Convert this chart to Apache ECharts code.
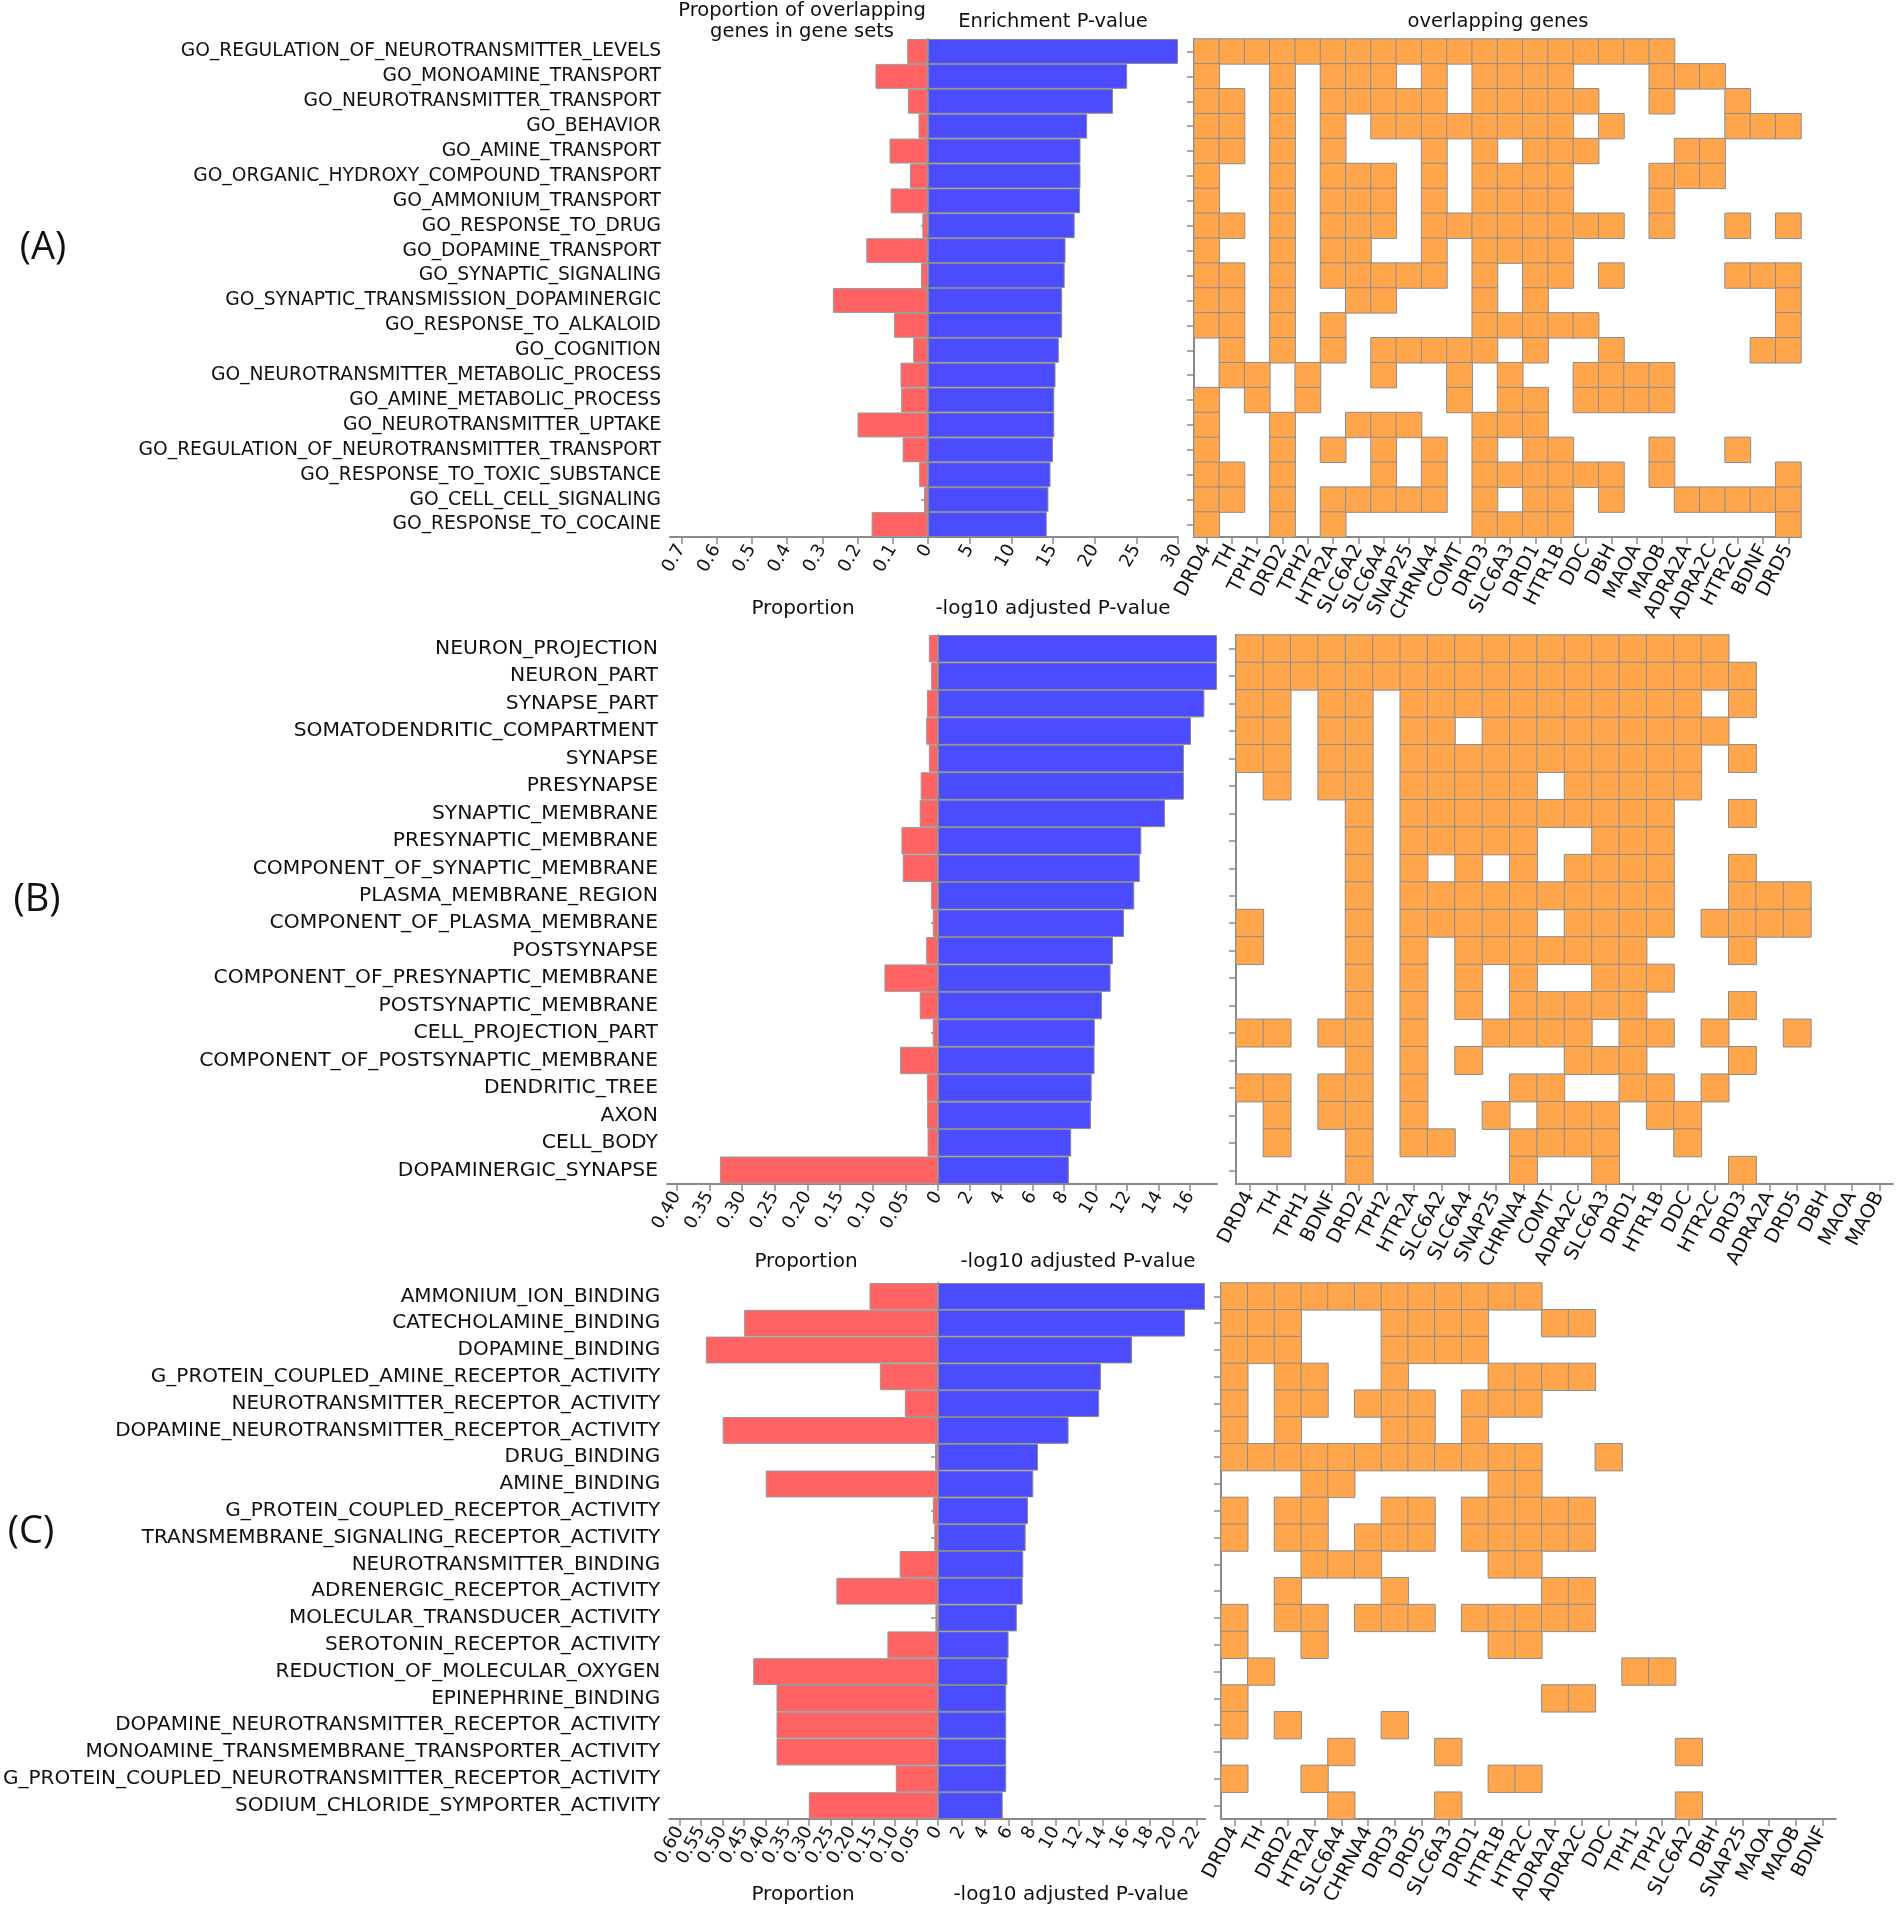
<!DOCTYPE html>
<html><head><meta charset="utf-8">
<script src="https://cdn.jsdelivr.net/npm/echarts@6/dist/echarts.min.js"></script>
<style>html,body{margin:0;padding:0;background:#fff}#c{width:1899px;height:1917px}</style>
</head><body><div id="c"></div>
<script>
// ---------- Panel A (biological process) ----------
const termsA = ["GO_REGULATION_OF_NEUROTRANSMITTER_LEVELS","GO_MONOAMINE_TRANSPORT","GO_NEUROTRANSMITTER_TRANSPORT","GO_BEHAVIOR","GO_AMINE_TRANSPORT","GO_ORGANIC_HYDROXY_COMPOUND_TRANSPORT","GO_AMMONIUM_TRANSPORT","GO_RESPONSE_TO_DRUG","GO_DOPAMINE_TRANSPORT","GO_SYNAPTIC_SIGNALING","GO_SYNAPTIC_TRANSMISSION_DOPAMINERGIC","GO_RESPONSE_TO_ALKALOID","GO_COGNITION","GO_NEUROTRANSMITTER_METABOLIC_PROCESS","GO_AMINE_METABOLIC_PROCESS","GO_NEUROTRANSMITTER_UPTAKE","GO_REGULATION_OF_NEUROTRANSMITTER_TRANSPORT","GO_RESPONSE_TO_TOXIC_SUBSTANCE","GO_CELL_CELL_SIGNALING","GO_RESPONSE_TO_COCAINE"];
const propA = [0.059,0.149,0.057,0.027,0.109,0.051,0.106,0.016,0.175,0.020,0.270,0.096,0.042,0.078,0.076,0.200,0.072,0.025,0.011,0.160];
const pvalA = [30.0,23.9,22.2,19.1,18.3,18.3,18.25,17.6,16.5,16.4,16.1,16.1,15.7,15.3,15.15,15.15,15.0,14.7,14.45,14.25];
const genesA = ["DRD4","TH","TPH1","DRD2","TPH2","HTR2A","SLC6A2","SLC6A4","SNAP25","CHRNA4","COMT","DRD3","SLC6A3","DRD1","HTR1B","DDC","DBH","MAOA","MAOB","ADRA2A","ADRA2C","HTR2C","BDNF","DRD5"];
const overlapA = [
"111111111111111111100000",
"100101110101111000111000",
"110101111101111100100100",
"110101011111111010000111",
"110101000101011100011000",
"100101110101111000111000",
"100101110101111000100000",
"110101110111111110100101",
"100101100101111000000000",
"110101111101011010000111",
"110100110001010000000001",
"110101000001111100000001",
"010101011111010010000011",
"011010010010100111100000",
"101010000010110111100000",
"100100111001110000000000",
"100101010101011000100100",
"110100010101111110100001",
"110101111101011010011111",
"100101000001111000000001"];

// ---------- Panel B (cellular component) ----------
const termsB = ["NEURON_PROJECTION","NEURON_PART","SYNAPSE_PART","SOMATODENDRITIC_COMPARTMENT","SYNAPSE","PRESYNAPSE","SYNAPTIC_MEMBRANE","PRESYNAPTIC_MEMBRANE","COMPONENT_OF_SYNAPTIC_MEMBRANE","PLASMA_MEMBRANE_REGION","COMPONENT_OF_PLASMA_MEMBRANE","POSTSYNAPSE","COMPONENT_OF_PRESYNAPTIC_MEMBRANE","POSTSYNAPTIC_MEMBRANE","CELL_PROJECTION_PART","COMPONENT_OF_POSTSYNAPTIC_MEMBRANE","DENDRITIC_TREE","AXON","CELL_BODY","DOPAMINERGIC_SYNAPSE"];
const propB = [0.014,0.0105,0.017,0.018,0.014,0.0265,0.028,0.056,0.054,0.0105,0.008,0.018,0.082,0.028,0.008,0.058,0.017,0.0166,0.016,0.334];
const pvalB = [17.7,17.7,16.9,16.05,15.6,15.6,14.4,12.9,12.8,12.45,11.8,11.1,10.95,10.4,9.95,9.93,9.75,9.7,8.45,8.3];
const genesB = ["DRD4","TH","TPH1","BDNF","DRD2","TPH2","HTR2A","SLC6A2","SLC6A4","SNAP25","CHRNA4","COMT","ADRA2C","SLC6A3","DRD1","HTR1B","DDC","HTR2C","DRD3","ADRA2A","DRD5","DBH","MAOA","MAOB"];
const overlapB = [
"111111111111111111000000",
"111111111111111111100000",
"110110111111111110100000",
"110110110111111111000000",
"110110111111111110100000",
"010110111110111110000000",
"000010111111111100100000",
"000010111110011100000000",
"000010101010111100100000",
"000010111111111100111000",
"100010111110111101111000",
"100010101111111000100000",
"000010101010011100000000",
"000010101011111000100000",
"110110100111101101001000",
"000010101000111000100000",
"110110100011001101000000",
"010110100101110110000000",
"010010110011110010000000",
"000010000010010000100000"];

// ---------- Panel C (molecular function) ----------
const termsC = ["AMMONIUM_ION_BINDING","CATECHOLAMINE_BINDING","DOPAMINE_BINDING","G_PROTEIN_COUPLED_AMINE_RECEPTOR_ACTIVITY","NEUROTRANSMITTER_RECEPTOR_ACTIVITY","DOPAMINE_NEUROTRANSMITTER_RECEPTOR_ACTIVITY","DRUG_BINDING","AMINE_BINDING","G_PROTEIN_COUPLED_RECEPTOR_ACTIVITY","TRANSMEMBRANE_SIGNALING_RECEPTOR_ACTIVITY","NEUROTRANSMITTER_BINDING","ADRENERGIC_RECEPTOR_ACTIVITY","MOLECULAR_TRANSDUCER_ACTIVITY","SEROTONIN_RECEPTOR_ACTIVITY","REDUCTION_OF_MOLECULAR_OXYGEN","EPINEPHRINE_BINDING","DOPAMINE_NEUROTRANSMITTER_RECEPTOR_ACTIVITY","MONOAMINE_TRANSMEMBRANE_TRANSPORTER_ACTIVITY","G_PROTEIN_COUPLED_NEUROTRANSMITTER_RECEPTOR_ACTIVITY","SODIUM_CHLORIDE_SYMPORTER_ACTIVITY"];
const propC = [0.159,0.450,0.539,0.135,0.077,0.500,0.007,0.400,0.012,0.0085,0.089,0.236,0.006,0.1175,0.429,0.375,0.375,0.375,0.098,0.300];
const pvalC = [22.7,21.0,16.5,13.85,13.7,11.1,8.5,8.1,7.65,7.45,7.25,7.2,6.7,6.0,5.9,5.8,5.8,5.8,5.8,5.5];
const genesC = ["DRD4","TH","DRD2","HTR2A","SLC6A4","CHRNA4","DRD3","DRD5","SLC6A3","DRD1","HTR1B","HTR2C","ADRA2A","ADRA2C","DDC","TPH1","TPH2","SLC6A2","DBH","SNAP25","MAOA","MAOB","BDNF"];
const overlapC = [
"11111111111100000000000",
"11100011110011000000000",
"11100011110000000000000",
"10110010001111000000000",
"10110111011100000000000",
"10100011010000000000000",
"11111111111100100000000",
"00011000001100000000000",
"10110011011111000000000",
"10110111011111000000000",
"00011100001100000000000",
"00100010000011000000000",
"10110111011111000000000",
"10010000001100000000000",
"01000000000000011000000",
"10000000000011000000000",
"10100010000000000000000",
"00001000100000000100000",
"10010000001100000000000",
"00001000100000000100000"];

const propTicksA = {max:0.732, interval:0.1, dec:1};
const propTicksB = {max:0.415, interval:0.05, dec:2};
const propTicksC = {max:0.624, interval:0.05, dec:2};
const pTicksA = {max:30, interval:5};
const pTicksB = {max:17.7, interval:2};
const pTicksC = {max:22.7, interval:2};

const FONT = 'DejaVu Sans';
const AX = '#8a8a8a';
const RED = '#FF6363', BLUE = '#4B4BFF', ORANGE = '#FFA64D';

const layouts = [
  {top:39, h:498, catX:670, zero:928, pEnd:1178, heatL:1194, heatW:607, catFont:18.7},
  {top:635, h:549, catX:667, zero:938, pEnd:1217, heatL:1236, heatW:657, catFont:20.3},
  {top:1283, h:536, catX:669, zero:938, pEnd:1205, heatL:1221, heatW:615, catFont:20}
];
const panels = [
  {terms:termsA, prop:propA, pval:pvalA, genes:genesA, overlap:overlapA, pt:propTicksA, pv:pTicksA},
  {terms:termsB, prop:propB, pval:pvalB, genes:genesB, overlap:overlapB, pt:propTicksB, pv:pTicksB},
  {terms:termsC, prop:propC, pval:pvalC, genes:genesC, overlap:overlapC, pt:propTicksC, pv:pTicksC}
];

const grid = [], xAxis = [], yAxis = [], series = [];
const lineStyle = {color: AX, width: 2};
const tickStyle = {show:true, length:7, lineStyle:{color:AX, width:1.5}};
const lbl = {fontFamily: FONT, fontSize: 18, color: '#111'};

panels.forEach((p, k) => {
  const L = layouts[k];
  const gi = k*3;
  grid.push({left:L.catX, top:L.top, width:L.zero-L.catX, height:L.h});
  grid.push({left:L.zero, top:L.top, width:L.pEnd-L.zero, height:L.h});
  grid.push({left:L.heatL, top:L.top, width:L.heatW, height:L.h});

  xAxis.push({gridIndex:gi, type:'value', inverse:true, min:0, max:p.pt.max, interval:p.pt.interval,
    axisLine:{show:true, lineStyle}, axisTick:tickStyle, splitLine:{show:false},
    axisLabel:Object.assign({rotate:60, margin:9, showMaxLabel:false,
      formatter:v => v === 0 ? '0' : v.toFixed(p.pt.dec)}, lbl)});
  xAxis.push({gridIndex:gi+1, type:'value', min:0, max:p.pv.max, interval:p.pv.interval,
    axisLine:{show:true, lineStyle}, axisTick:tickStyle, splitLine:{show:false},
    axisLabel:Object.assign({rotate:60, margin:9, showMinLabel:false,
      showMaxLabel: (p.pv.max % p.pv.interval) === 0}, lbl)});
  xAxis.push({gridIndex:gi+2, type:'category', data:p.genes,
    axisLine:{show:true, lineStyle}, axisTick:Object.assign({alignWithLabel:true, interval:0}, tickStyle),
    axisLabel:Object.assign({rotate:62, margin:9, interval:0}, lbl, {fontSize:19.5})});

  yAxis.push({gridIndex:gi, type:'category', data:p.terms, inverse:true,
    axisLine:{show:true, lineStyle}, axisTick:Object.assign({alignWithLabel:true}, tickStyle),
    axisLabel:Object.assign({interval:0, margin:9}, lbl, {fontSize:L.catFont})});
  yAxis.push({gridIndex:gi+1, type:'category', data:p.terms, inverse:true, show:false});
  yAxis.push({gridIndex:gi+2, type:'category', data:p.terms, inverse:true,
    axisLine:{show:true, lineStyle}, axisTick:Object.assign({alignWithLabel:true}, tickStyle),
    axisLabel:{show:false}});

  series.push({type:'bar', xAxisIndex:gi, yAxisIndex:gi, data:p.prop, barWidth:'100%',
    itemStyle:{color:RED, borderColor:'#999', borderWidth:1}, silent:true});
  series.push({type:'bar', xAxisIndex:gi+1, yAxisIndex:gi+1, data:p.pval, barWidth:'100%',
    itemStyle:{color:BLUE, borderColor:'#888', borderWidth:1}, silent:true});
  const cells = [];
  p.overlap.forEach((row, r) => {
    for (let c = 0; c < row.length; c++) if (row[c] === '1') cells.push([c, r, 1]);
  });
  series.push({type:'heatmap', xAxisIndex:gi+2, yAxisIndex:gi+2, data:cells,
    itemStyle:{borderColor:'#8c8c8c', borderWidth:1}, silent:true});
});

const ctext = (text, cx, cy, size, fam) => ({type:'text', x:cx, y:cy,
  style:{text, fill:'#111', font:size+'px "'+(fam||FONT)+'"', textAlign:'center', textVerticalAlign:'middle'}});

const graphic = [
  ctext('Proportion of overlapping', 802, 11, 19.5),
  ctext('genes in gene sets', 802, 32, 19.5),
  ctext('Enrichment P-value', 1053, 22, 19.5),
  ctext('overlapping genes', 1498, 22, 19.5),
  ctext('Proportion', 803, 609, 20),
  ctext('-log10 adjusted P-value', 1053, 609, 20),
  ctext('Proportion', 806, 1262, 20),
  ctext('-log10 adjusted P-value', 1078, 1262, 20),
  ctext('Proportion', 803, 1895, 20),
  ctext('-log10 adjusted P-value', 1071, 1895, 20),
  ctext('(A)', 43, 248, 38, 'Open Sans'),
  ctext('(B)', 37, 900, 38, 'Open Sans'),
  ctext('(C)', 31, 1532, 38, 'Open Sans')
];

const chart = echarts.init(document.getElementById('c'), null, {renderer:'canvas'});
chart.setOption({
  animation:false,
  backgroundColor:'#fff',
  grid, xAxis, yAxis, series,
  visualMap:{show:false, type:'continuous', min:0, max:1, seriesIndex:[2,5,8], inRange:{color:[ORANGE, ORANGE]}},
  graphic
});
</script></body></html>
